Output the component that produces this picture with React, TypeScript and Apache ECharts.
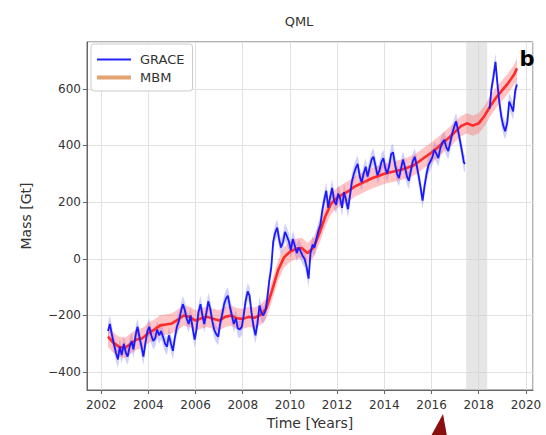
import React, { useEffect, useRef } from "react";
import * as echarts from "echarts";

// GRACE monthly mass anomaly (Gt), before the GRACE / GRACE-FO gap
const GRACE_2002_2017: [number, number][] = [
  [2002.29, -255], [2002.37, -230], [2002.46, -270], [2002.54, -300], [2002.62, -330], [2002.71, -355],
  [2002.79, -310], [2002.87, -340], [2002.96, -300], [2003.04, -330], [2003.12, -345], [2003.21, -310],
  [2003.29, -290], [2003.37, -320], [2003.46, -270], [2003.54, -240], [2003.62, -275], [2003.71, -310],
  [2003.79, -345], [2003.87, -300], [2003.96, -255], [2004.04, -240], [2004.12, -270], [2004.21, -290],
  [2004.29, -280], [2004.37, -250], [2004.46, -270], [2004.54, -255], [2004.62, -275], [2004.71, -300],
  [2004.79, -310], [2004.87, -270], [2004.96, -300], [2005.04, -325], [2005.12, -280], [2005.21, -240],
  [2005.29, -220], [2005.37, -190], [2005.46, -160], [2005.54, -180], [2005.62, -210], [2005.71, -230],
  [2005.79, -200], [2005.87, -240], [2005.96, -285], [2006.04, -250], [2006.12, -190], [2006.21, -160],
  [2006.29, -200], [2006.37, -230], [2006.46, -190], [2006.54, -150], [2006.62, -175], [2006.71, -220],
  [2006.79, -250], [2006.87, -265], [2006.96, -275], [2007.04, -230], [2007.12, -200], [2007.21, -160],
  [2007.29, -140], [2007.37, -130], [2007.46, -170], [2007.54, -200], [2007.62, -230], [2007.71, -210],
  [2007.79, -245], [2007.87, -250], [2007.96, -240], [2008.04, -200], [2008.12, -150], [2008.21, -115],
  [2008.29, -130], [2008.37, -190], [2008.46, -240], [2008.54, -270], [2008.62, -230], [2008.71, -165],
  [2008.79, -190], [2008.87, -200], [2008.96, -185], [2009.04, -140], [2009.12, -80], [2009.21, -30],
  [2009.29, 60], [2009.37, 90], [2009.46, 110], [2009.54, 70], [2009.62, 40], [2009.71, 60],
  [2009.79, 95], [2009.87, 80], [2009.96, 60], [2010.04, 30], [2010.12, 70], [2010.21, 45],
  [2010.29, 20], [2010.37, 40], [2010.46, 25], [2010.54, 10], [2010.62, 0], [2010.71, -30],
  [2010.79, -70], [2010.87, 20], [2010.96, 50], [2011.04, 40], [2011.12, 70], [2011.21, 100],
  [2011.29, 120], [2011.37, 170], [2011.46, 210], [2011.54, 240], [2011.62, 180], [2011.71, 220],
  [2011.79, 250], [2011.87, 205], [2011.96, 190], [2012.04, 230], [2012.12, 215], [2012.21, 180],
  [2012.29, 235], [2012.37, 210], [2012.46, 175], [2012.54, 220], [2012.62, 270], [2012.71, 300],
  [2012.79, 320], [2012.87, 335], [2012.96, 290], [2013.04, 270], [2013.12, 300], [2013.21, 325],
  [2013.29, 290], [2013.37, 320], [2013.46, 350], [2013.54, 360], [2013.62, 330], [2013.71, 295],
  [2013.79, 310], [2013.87, 340], [2013.96, 355], [2014.04, 320], [2014.12, 300], [2014.21, 330],
  [2014.29, 370], [2014.37, 375], [2014.46, 330], [2014.54, 300], [2014.62, 285], [2014.71, 320],
  [2014.79, 350], [2014.87, 325], [2014.96, 290], [2015.04, 275], [2015.12, 310], [2015.21, 345],
  [2015.29, 360], [2015.37, 330], [2015.46, 290], [2015.54, 250], [2015.62, 205], [2015.71, 260],
  [2015.79, 300], [2015.87, 330], [2015.96, 345], [2016.04, 360], [2016.12, 385], [2016.21, 370],
  [2016.29, 355], [2016.37, 390], [2016.46, 410], [2016.54, 420], [2016.62, 395], [2016.71, 380],
  [2016.79, 410], [2016.87, 440], [2016.96, 465], [2017.04, 485], [2017.12, 455], [2017.21, 415],
  [2017.29, 380], [2017.37, 340], [2017.42, 335],
];

// GRACE-FO monthly mass anomaly (Gt)
const GRACE_2018_2019: [number, number][] = [
  [2018.46, 530], [2018.54, 600], [2018.62, 640], [2018.71, 695], [2018.79, 620], [2018.87, 555],
  [2018.96, 500], [2019.04, 470], [2019.12, 450], [2019.21, 480], [2019.29, 555], [2019.37, 540],
  [2019.46, 520], [2019.54, 590], [2019.62, 615],
];

// MBM (SMB-based) cumulative mass (Gt)
const MBM: [number, number][] = [
  [2002.29, -275], [2002.5, -295], [2002.75, -310], [2003.0, -315], [2003.25, -300], [2003.5, -285],
  [2003.75, -280], [2004.0, -262], [2004.25, -250], [2004.5, -235], [2004.75, -232], [2005.0, -228],
  [2005.25, -215], [2005.5, -200], [2005.75, -205], [2006.0, -218], [2006.25, -210], [2006.5, -205],
  [2006.75, -212], [2007.0, -218], [2007.25, -205], [2007.5, -200], [2007.75, -210], [2008.0, -212],
  [2008.25, -205], [2008.5, -208], [2008.75, -198], [2009.0, -175], [2009.25, -110], [2009.5, -40],
  [2009.75, 5], [2010.0, 25], [2010.25, 35], [2010.5, 38], [2010.75, 20], [2011.0, 40],
  [2011.25, 90], [2011.5, 150], [2011.75, 195], [2012.0, 215], [2012.25, 228], [2012.5, 240],
  [2012.75, 255], [2013.0, 265], [2013.25, 275], [2013.5, 285], [2013.75, 292], [2014.0, 300],
  [2014.25, 305], [2014.5, 310], [2014.75, 315], [2015.0, 322], [2015.25, 330], [2015.5, 345],
  [2015.75, 360], [2016.0, 375], [2016.25, 392], [2016.5, 410], [2016.75, 428], [2017.0, 448],
  [2017.25, 468], [2017.5, 478], [2017.75, 470], [2018.0, 478], [2018.25, 505], [2018.5, 540],
  [2018.75, 570], [2019.0, 595], [2019.25, 620], [2019.5, 650], [2019.62, 672],
];

const GRACE_SIGMA = 30;
const MBM_SIGMA = 36;
const GAP_YEARS: [number, number] = [2017.47, 2018.36];
const X_RANGE: [number, number] = [2001.4, 2020.3];
const Y_RANGE: [number, number] = [-463, 765];

const FONT = "DejaVu Sans";
const TEXT = "#333";

function bandRenderer(segments: [number, number][][], sigma: number, fill: string) {
  return (_params: any, api: any) => {
    const children = segments.map((seg) => {
      const upper = seg.map(([x, y]) => api.coord([x, y + sigma]));
      const lower = seg
        .slice()
        .reverse()
        .map(([x, y]) => api.coord([x, y - sigma]));
      return {
        type: "polygon",
        shape: { points: upper.concat(lower) },
        style: { fill, stroke: "none" },
      };
    });
    return { type: "group", children };
  };
}

export default function App() {
  const ref = useRef<HTMLDivElement>(null);

  useEffect(() => {
    if (!ref.current) return;
    const chart = echarts.init(ref.current, undefined, { renderer: "svg" });
    const option: any = {
      animation: false,
      backgroundColor: "#fff",
      textStyle: { fontFamily: FONT },
      grid: {
        left: 87,
        top: 42,
        right: 13,
        bottom: 44,
        show: true,
        borderColor: "#666",
        borderWidth: 1,
        backgroundColor: "transparent",
      },
      legend: {
        orient: "vertical",
        left: 91,
        top: 44,
        padding: [9, 8, 7, 6],
        itemWidth: 34,
        itemHeight: 12,
        itemGap: 5,
        backgroundColor: "rgba(255,255,255,0.85)",
        borderColor: "#ccc",
        borderWidth: 1,
        borderRadius: 3,
        textStyle: { fontFamily: FONT, fontSize: 13, color: TEXT, padding: [0, 0, 0, 4] },
        data: [
          { name: "GRACE", icon: "path://M0,0H34V2H0Z", itemStyle: { color: "#2222ff" } },
          { name: "MBM", icon: "path://M0,0H34V4H0Z", itemStyle: { color: "#e2a470" } },
        ],
      },
      xAxis: {
        type: "value",
        min: X_RANGE[0],
        max: X_RANGE[1],
        splitNumber: 9,
        name: "Time [Years]",
        nameLocation: "middle",
        nameGap: 26,
        nameTextStyle: { fontFamily: FONT, fontSize: 14, color: TEXT },
        axisLine: { show: true, onZero: false, lineStyle: { color: "#666" } },
        axisTick: { show: true, length: 4, lineStyle: { color: "#666" } },
        axisLabel: {
          fontFamily: FONT,
          fontSize: 12,
          color: TEXT,
          margin: 9,
          showMinLabel: false,
          showMaxLabel: false,
          formatter: (v: number) => String(Math.round(v)),
        },
        splitLine: { show: true, lineStyle: { color: "#e2e2e2", width: 1 } },
      },
      yAxis: {
        type: "value",
        min: Y_RANGE[0],
        max: Y_RANGE[1],
        splitNumber: 6,
        name: "Mass [Gt]",
        nameLocation: "middle",
        nameGap: 54,
        nameRotate: 90,
        nameTextStyle: { fontFamily: FONT, fontSize: 14, color: TEXT },
        axisLine: { show: true, lineStyle: { color: "#666" } },
        axisTick: { show: true, length: 4, lineStyle: { color: "#666" } },
        axisLabel: {
          fontFamily: FONT,
          fontSize: 12,
          color: TEXT,
          margin: 6,
          showMinLabel: false,
          showMaxLabel: false,
          formatter: (v: number) => (v < 0 ? "\u2212" + Math.abs(v) : String(v)),
        },
        splitLine: { show: true, lineStyle: { color: "#e2e2e2", width: 1 } },
      },
      series: [
        {
          name: "GRACE band",
          type: "custom",
          coordinateSystem: "cartesian2d",
          data: [[2010, 0]],
          silent: true,
          z: 1,
          renderItem: bandRenderer([GRACE_2002_2017, GRACE_2018_2019], GRACE_SIGMA, "rgba(110,110,255,0.32)"),
          markArea: {
            silent: true,
            itemStyle: { color: "rgba(205,205,205,0.5)" },
            data: [[{ xAxis: GAP_YEARS[0] }, { xAxis: GAP_YEARS[1] }]],
          },
        },
        {
          name: "MBM band",
          type: "custom",
          coordinateSystem: "cartesian2d",
          data: [[2010, 0]],
          silent: true,
          z: 2,
          renderItem: bandRenderer([MBM], MBM_SIGMA, "rgba(255,100,100,0.38)"),
        },
        {
          name: "MBM",
          type: "line",
          data: MBM,
          symbol: "none",
          z: 3,
          lineStyle: { color: "#ff2a2a", width: 2.6 },
          itemStyle: { color: "#ff2a2a" },
        },
        {
          name: "GRACE",
          type: "line",
          data: GRACE_2002_2017,
          symbol: "none",
          z: 4,
          lineStyle: { color: "#1a1aff", width: 1.8 },
          itemStyle: { color: "#1a1aff" },
        },
        {
          name: "GRACE",
          type: "line",
          data: GRACE_2018_2019,
          symbol: "none",
          z: 4,
          lineStyle: { color: "#1a1aff", width: 1.8 },
          itemStyle: { color: "#1a1aff" },
        },
      ],
      graphic: [
        {
          type: "text",
          x: 299,
          y: 21,
          style: { text: "QML", fontFamily: FONT, fontSize: 13, fill: TEXT, textAlign: "center", textVerticalAlign: "middle" },
        },
        {
          type: "text",
          x: 527,
          y: 59,
          z: 10,
          style: { text: "b", fontFamily: FONT, fontSize: 21, fontWeight: "bold", fill: "#000", textAlign: "center", textVerticalAlign: "middle" },
        },
        {
          type: "polygon",
          shape: { points: [[443, 414], [431, 436], [447, 436]] },
          style: { fill: "#8a1010" },
        },
      ],
    };
    chart.setOption(option);
    return () => chart.dispose();
  }, []);

  return (
    <div
      ref={ref}
      style={{ position: "absolute", left: 0, top: 0, width: 546, height: 435 }}
    />
  );
}
